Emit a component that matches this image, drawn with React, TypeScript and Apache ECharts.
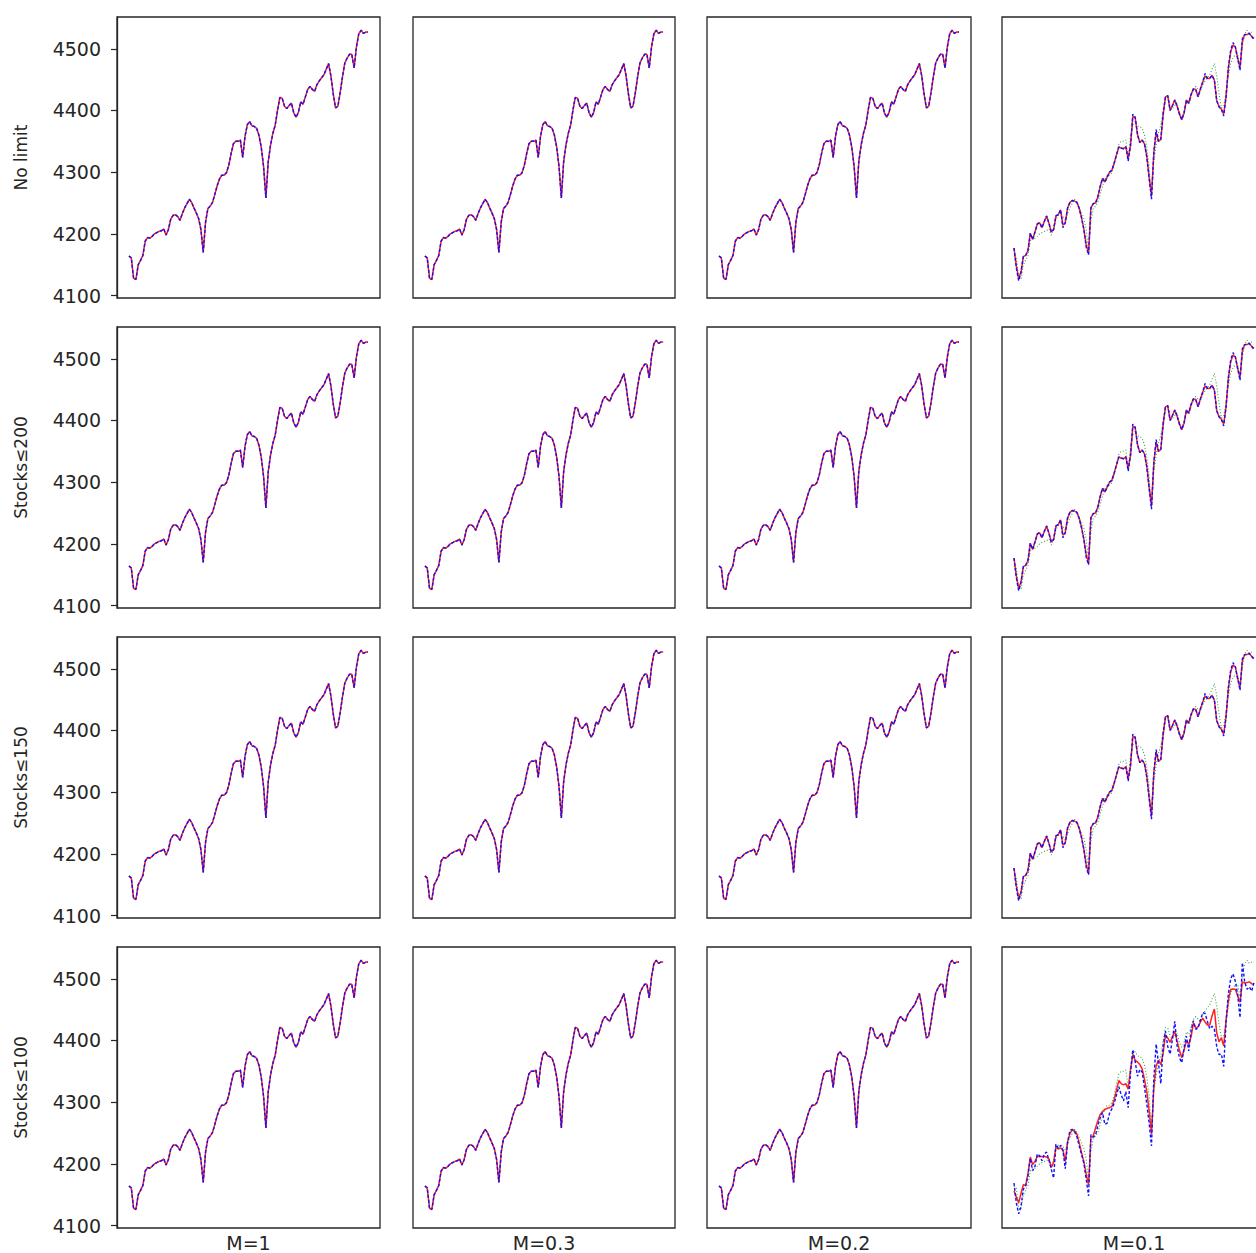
import React, { useEffect, useRef } from "react";
import * as echarts from "echarts";

// Actual index (green dotted) — same in every panel
const actual = [
  4164, 4161, 4128, 4126, 4150, 4157, 4165, 4188, 4194, 4193,
  4196, 4200, 4202, 4204, 4205, 4208, 4198, 4207, 4224, 4230,
  4231, 4228, 4222, 4233, 4242, 4249, 4256, 4251, 4242, 4234,
  4225, 4207, 4170, 4219, 4241, 4245, 4251, 4264, 4278, 4289,
  4295, 4295, 4299, 4311, 4330, 4346, 4350, 4350, 4352, 4324,
  4358, 4377, 4382, 4375, 4374, 4371, 4360, 4340, 4309, 4258,
  4317, 4344, 4363, 4376, 4400, 4421, 4420, 4407, 4403, 4408,
  4412, 4396, 4389, 4397, 4414, 4410, 4422, 4434, 4439, 4434,
  4431, 4442, 4448, 4453, 4458, 4467, 4476, 4456, 4427, 4404,
  4407, 4429, 4455, 4477, 4485, 4491, 4491, 4469, 4503, 4524,
  4530, 4525, 4527, 4527,
];

// M=0.1, rows 1-3: tracking (red solid) and replication (blue dashed)
const m01Red = [
  4177, 4148, 4128, 4138, 4163, 4165, 4173, 4201, 4191, 4203,
  4216, 4218, 4210, 4220, 4229, 4217, 4203, 4207, 4229, 4231,
  4239, 4214, 4218, 4242, 4251, 4254, 4253, 4251, 4241, 4226,
  4207, 4182, 4170, 4242, 4249, 4250, 4260, 4277, 4290, 4284,
  4292, 4300, 4303, 4315, 4328, 4341, 4339, 4338, 4341, 4322,
  4343, 4390, 4389, 4361, 4348, 4352, 4346, 4326, 4291, 4262,
  4331, 4365, 4350, 4353, 4392, 4422, 4424, 4400, 4408, 4417,
  4407, 4394, 4385, 4396, 4417, 4412, 4426, 4435, 4434, 4422,
  4435, 4446, 4456, 4452, 4452, 4457, 4449, 4416, 4406, 4402,
  4394, 4422, 4469, 4495, 4506, 4503, 4484, 4470, 4512, 4523,
  4523, 4525, 4520, 4517,
];
const m01Blue = [
  4177, 4145, 4124, 4137, 4163, 4165, 4173, 4201, 4191, 4203,
  4216, 4218, 4210, 4220, 4229, 4217, 4203, 4207, 4229, 4231,
  4239, 4210, 4218, 4242, 4251, 4254, 4253, 4251, 4241, 4226,
  4207, 4178, 4166, 4242, 4249, 4250, 4260, 4277, 4290, 4284,
  4292, 4300, 4303, 4315, 4328, 4341, 4339, 4338, 4341, 4318,
  4343, 4394, 4389, 4361, 4348, 4352, 4346, 4324, 4291, 4256,
  4331, 4369, 4350, 4353, 4395, 4422, 4424, 4400, 4408, 4417,
  4407, 4394, 4385, 4396, 4417, 4412, 4426, 4435, 4434, 4422,
  4435, 4446, 4460, 4452, 4452, 4457, 4449, 4416, 4406, 4402,
  4391, 4422, 4469, 4498, 4510, 4503, 4484, 4465, 4516, 4523,
  4523, 4525, 4520, 4515,
];

// M=0.1, Stocks≤100
const r4m01Red = [
  4156, 4146, 4137, 4152, 4166, 4165, 4184, 4211, 4199, 4204,
  4212, 4212, 4212, 4212, 4211, 4208, 4194, 4202, 4228, 4224,
  4226, 4222, 4204, 4236, 4249, 4255, 4254, 4248, 4234, 4218,
  4203, 4183, 4166, 4243, 4245, 4258, 4270, 4280, 4285, 4288,
  4290, 4291, 4293, 4304, 4320, 4335, 4330, 4328, 4330, 4321,
  4352, 4377, 4368, 4365, 4361, 4354, 4337, 4317, 4286, 4248,
  4323, 4359, 4368, 4361, 4379, 4409, 4404, 4397, 4406, 4415,
  4399, 4384, 4372, 4385, 4399, 4394, 4406, 4428, 4420, 4422,
  4430, 4436, 4430, 4425, 4425, 4440, 4451, 4412, 4398, 4404,
  4391, 4433, 4465, 4483, 4483, 4483, 4472, 4462, 4495, 4493,
  4494, 4495, 4492, 4491,
];
const r4m01Blue = [
  4169, 4137, 4119, 4131, 4159, 4164, 4181, 4209, 4189, 4196,
  4216, 4213, 4205, 4216, 4219, 4206, 4191, 4177, 4232, 4225,
  4230, 4222, 4192, 4235, 4254, 4256, 4252, 4244, 4229, 4215,
  4201, 4175, 4148, 4247, 4243, 4247, 4262, 4275, 4283, 4264,
  4266, 4282, 4289, 4298, 4312, 4325, 4312, 4302, 4317, 4291,
  4348, 4385, 4366, 4342, 4353, 4349, 4324, 4297, 4266, 4229,
  4337, 4394, 4363, 4330, 4391, 4415, 4390, 4378, 4402, 4431,
  4391, 4372, 4364, 4388, 4407, 4383, 4417, 4432, 4418, 4420,
  4433, 4445, 4444, 4431, 4419, 4423, 4418, 4390, 4377, 4378,
  4358, 4429, 4476, 4500, 4508, 4496, 4474, 4437, 4526, 4495,
  4483, 4487, 4480, 4494,
];

const rowLabels = ["No limit", "Stocks≤200", "Stocks≤150", "Stocks≤100"];
const colLabels = ["M=1", "M=0.3", "M=0.2", "M=0.1"];
const yTicks = [4100, 4200, 4300, 4400, 4500];

// layout (pixels)
const gridLefts = [117, 413, 707, 1002];
const gridWidths = [263, 262, 264, 264];
const gridTops = [17, 327, 637, 947];
const gridHeight = 281;

function panelSeries(r: number, c: number) {
  if (c < 3) return { red: actual, blue: actual };
  if (r < 3) return { red: m01Red, blue: m01Blue };
  return { red: r4m01Red, blue: r4m01Blue };
}

const toXY = (arr: number[]) => arr.map((v, i) => [i, v]);

export default function App() {
  const ref = useRef<HTMLDivElement>(null);
  useEffect(() => {
    if (!ref.current) return;
    const chart = echarts.init(ref.current, null, { renderer: "svg" });
    const grid: any[] = [];
    const xAxis: any[] = [];
    const yAxis: any[] = [];
    const series: any[] = [];
    const n = actual.length;
    let idx = 0;
    for (let r = 0; r < 4; r++) {
      for (let c = 0; c < 4; c++) {
        grid.push({
          left: gridLefts[c],
          top: gridTops[r],
          width: gridWidths[c],
          height: gridHeight,
          show: true,
          borderColor: "#262626",
          borderWidth: 1.3,
        });
        xAxis.push({
          type: "value",
          gridIndex: idx,
          min: -0.05 * (n - 1),
          max: (n - 1) * 1.05,
          axisLine: { show: false },
          axisTick: { show: false },
          axisLabel: { show: false },
          splitLine: { show: false },
        });
        yAxis.push({
          type: "value",
          gridIndex: idx,
          min: 4096,
          max: 4551.5,
          axisLine: {
            show: c === 0,
            onZero: false,
            lineStyle: { color: "#262626", width: 1.3 },
          },
          axisTick: {
            show: c === 0,
            length: 6,
            customValues: yTicks,
            lineStyle: { color: "#262626", width: 1.2 },
          },
          axisLabel: {
            show: c === 0,
            customValues: yTicks,
            margin: 16,
            formatter: (v: number) => String(v),
            fontFamily: "DejaVu Sans",
            fontSize: 19,
            color: "#262626",
          },
          splitLine: { show: false },
        });
        const { red, blue } = panelSeries(r, c);
        series.push({
          type: "line",
          xAxisIndex: idx,
          yAxisIndex: idx,
          data: toXY(actual),
          showSymbol: false,
          lineStyle: { color: "#3aa33a", width: 1.1, type: [1, 2] },
          z: 1,
        });
        series.push({
          type: "line",
          xAxisIndex: idx,
          yAxisIndex: idx,
          data: toXY(red),
          showSymbol: false,
          lineStyle: { color: "#ff2020", width: 1.5 },
          z: 2,
        });
        series.push({
          type: "line",
          xAxisIndex: idx,
          yAxisIndex: idx,
          data: toXY(blue),
          showSymbol: false,
          lineStyle: { color: "#1010ff", width: 1.4, type: [3, 2] },
          z: 3,
        });
        idx++;
      }
    }
    const graphic: any[] = [];
    rowLabels.forEach((t, r) => {
      graphic.push({
        type: "text",
        x: 21,
        y: gridTops[r] + gridHeight / 2,
        rotation: Math.PI / 2,
        style: {
          text: t,
          fontFamily: "DejaVu Sans",
          fontSize: 17,
          fill: "#262626",
          align: "center",
          verticalAlign: "middle",
        },
      });
    });
    colLabels.forEach((t, c) => {
      graphic.push({
        type: "text",
        x: gridLefts[c] + gridWidths[c] / 2,
        y: 1243,
        style: {
          text: t,
          fontFamily: "DejaVu Sans",
          fontSize: 19,
          fill: "#262626",
          align: "center",
          verticalAlign: "middle",
        },
      });
    });
    chart.setOption({
      animation: false,
      backgroundColor: "#ffffff",
      grid,
      xAxis,
      yAxis,
      series,
      graphic,
    });
    return () => chart.dispose();
  }, []);
  return (
    <div
      style={{
        position: "absolute",
        left: 0,
        top: 0,
        width: 1256,
        height: 1253,
        overflow: "hidden",
        background: "#fff",
      }}
    >
      <div ref={ref} style={{ width: 1275, height: 1253 }} />
    </div>
  );
}
